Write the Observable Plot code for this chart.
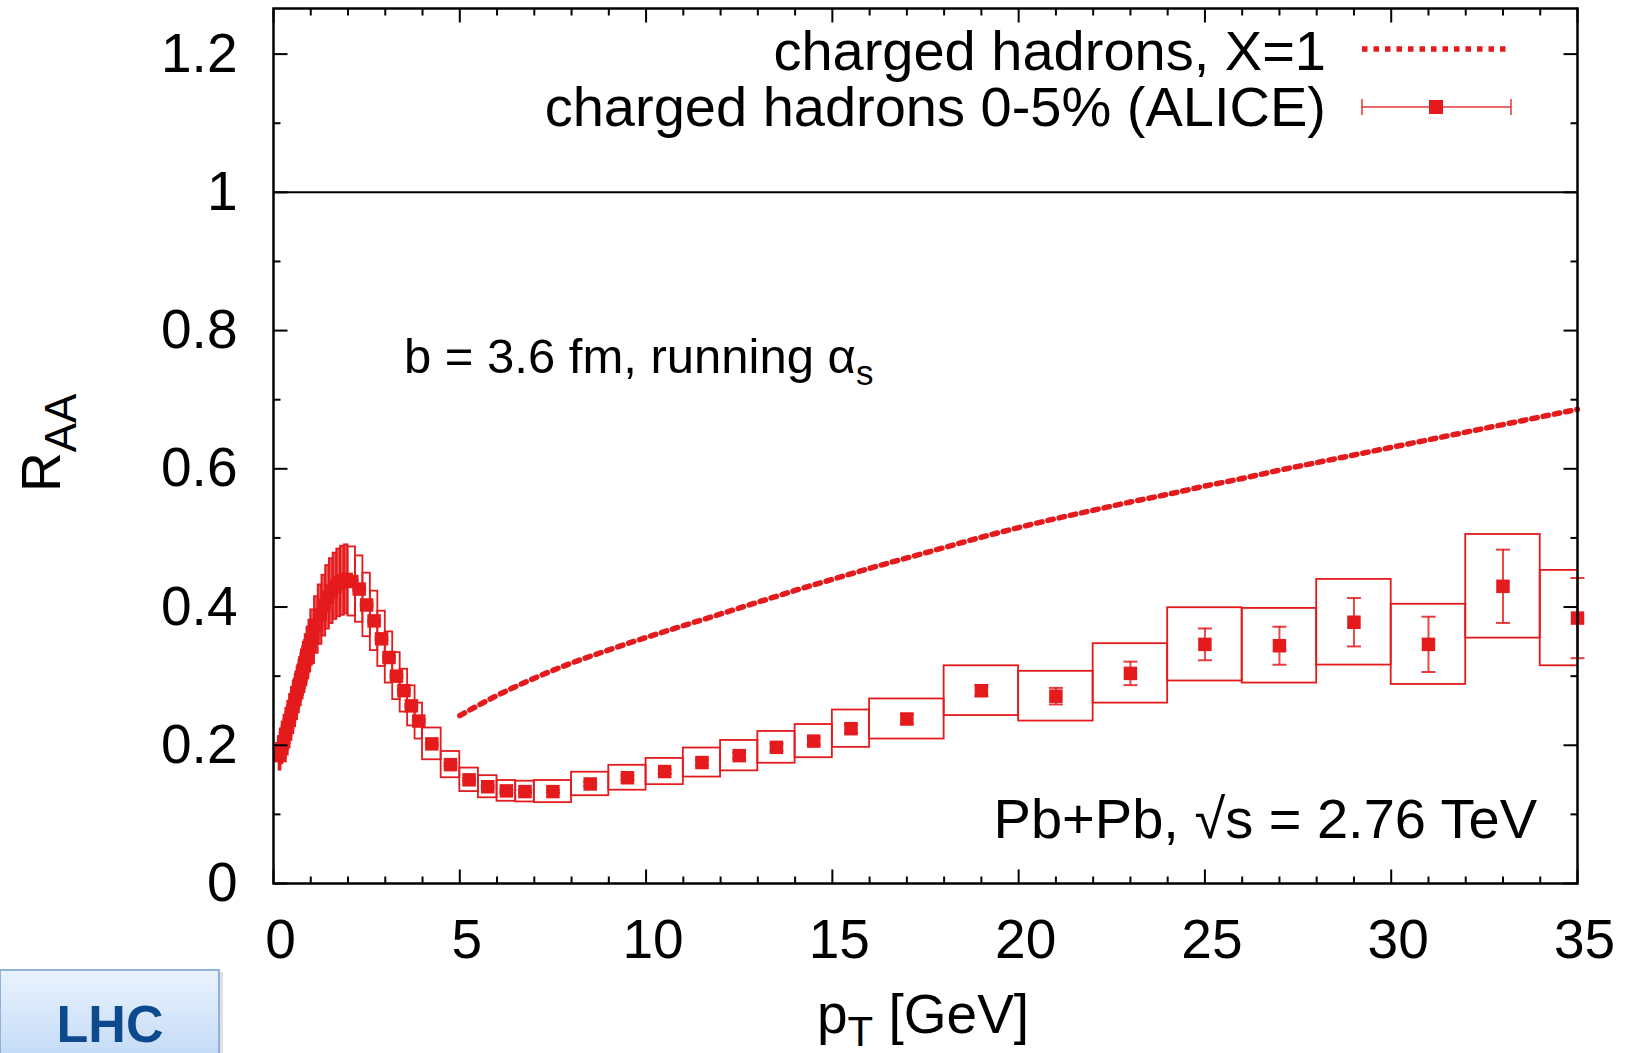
<!DOCTYPE html>
<html><head><meta charset="utf-8">
<script src="https://cdn.jsdelivr.net/npm/d3@7"></script>
<script src="https://cdn.jsdelivr.net/npm/@observablehq/plot@0.6"></script>
<style>
html,body{margin:0;padding:0;background:#fff;overflow:hidden;}
</style></head>
<body><div id="chart"></div>
<script>
// ALICE charged hadrons 0-5%: bin edges, centres, values, stat and sys errors
const ptLo=[0.15,0.2,0.25,0.3,0.35,0.4,0.45,0.5,0.55,0.6,0.65,0.7,0.75,0.8,0.85,0.9,0.95,
 1.0,1.1,1.2,1.3,1.4,1.5,1.6,1.7,1.8,1.9,
 2.0,2.2,2.4,2.6,2.8,3.0,3.2,3.4,3.6,3.8,
 4.0,4.5,5.0,5.5,6.0,6.5,
 7,8,9,10,11,12,13,14,15,
 16,18,20,22,24,26,28,30,32,34];
const ptHi=[0.2,0.25,0.3,0.35,0.4,0.45,0.5,0.55,0.6,0.65,0.7,0.75,0.8,0.85,0.9,0.95,1.0,
 1.1,1.2,1.3,1.4,1.5,1.6,1.7,1.8,1.9,2.0,
 2.2,2.4,2.6,2.8,3.0,3.2,3.4,3.6,3.8,4.0,
 4.5,5.0,5.5,6.0,6.5,7.0,
 8,9,10,11,12,13,14,15,16,
 18,20,22,24,26,28,30,32,34,36];
const pt=[0.175,0.225,0.275,0.325,0.375,0.425,0.475,0.525,0.575,0.625,0.675,0.725,0.775,0.825,0.875,0.925,0.975,
 1.05,1.15,1.25,1.35,1.45,1.55,1.65,1.75,1.85,1.95,
 2.1,2.3,2.5,2.7,2.9,3.1,3.3,3.5,3.7,3.9,
 4.25,4.75,5.25,5.75,6.25,6.75,
 7.5,8.5,9.5,10.5,11.5,12.5,13.5,14.5,15.5,
 17,19,21,23,25,27,29,31,33,35];
const raa=[0.185,0.195,0.205,0.216,0.226,0.236,0.246,0.256,0.266,0.276,0.285,0.295,0.305,0.315,0.325,0.335,0.344,
 0.357,0.374,0.389,0.402,0.414,0.423,0.430,0.435,0.438,0.440,
 0.437,0.426,0.403,0.380,0.354,0.327,0.300,0.279,0.257,0.235,
 0.202,0.172,0.150,0.140,0.134,0.133,
 0.133,0.144,0.153,0.162,0.175,0.185,0.197,0.206,0.224,
 0.238,0.279,0.271,0.304,0.346,0.344,0.378,0.346,0.430,0.384];
const stat=[0.002,0.002,0.002,0.002,0.002,0.002,0.002,0.002,0.002,0.002,0.002,0.002,0.002,0.002,0.002,0.002,0.002,
 0.002,0.002,0.002,0.002,0.002,0.002,0.002,0.002,0.002,0.002,
 0.002,0.002,0.002,0.002,0.002,0.002,0.002,0.002,0.002,0.002,
 0.002,0.002,0.002,0.002,0.002,0.002,
 0.002,0.003,0.003,0.003,0.004,0.004,0.005,0.005,0.006,
 0.007,0.008,0.012,0.017,0.023,0.0275,0.035,0.040,0.053,0.058];
const sys=[0.021,0.022,0.023,0.024,0.025,0.026,0.027,0.028,0.029,0.030,0.031,0.032,0.033,0.034,0.035,0.036,0.037,
 0.039,0.041,0.043,0.044,0.046,0.047,0.048,0.049,0.050,0.050,
 0.050,0.048,0.046,0.043,0.040,0.037,0.034,0.031,0.029,0.026,
 0.023,0.019,0.017,0.016,0.015,0.015,
 0.016,0.017,0.018,0.019,0.021,0.022,0.023,0.024,0.027,
 0.029,0.036,0.036,0.043,0.053,0.054,0.062,0.058,0.075,0.069];

// theory: charged hadrons, X=1
const thPt=[5,6,7,8,9,10,11,12,13,14,15,16,17,18,19,20,21,22,23,24,25,26,27,28,29,30,31,32,33,34,35];
const thRaa=[0.243,0.272,0.297,0.319,0.338,0.356,0.373,0.390,0.407,0.424,0.440,0.456,0.471,0.486,0.501,0.515,
 0.528,0.540,0.552,0.563,0.575,0.586,0.598,0.609,0.620,0.631,0.642,0.653,0.664,0.675,0.686];

// ticks
const xMajor=[0,5,10,15,20,25,30,35];
const xTickText=["0","5","10","15","20","25","30","35"];
const xMinor=[1,2,3,4,6,7,8,9,11,12,13,14,16,17,18,19,21,22,23,24,26,27,28,29,31,32,33,34];
const yMajor=[0,0.2,0.4,0.6,0.8,1.0,1.2];
const yTickText=["0","0.2","0.4","0.6","0.8","1","1.2"];
const yMinor=[0.1,0.3,0.5,0.7,0.9,1.1];

const data=pt.map((p,i)=>({pt:p,lo:ptLo[i],hi:ptHi[i],v:raa[i],st:stat[i],sy:sys[i]}));
const theory=thPt.map((p,i)=>({pt:p,v:thRaa[i]}));

const RED="#e41a1c";
const FONT='"Liberation Sans", Arial, Helvetica, sans-serif';
const seg=(x1,y1,x2,y2)=>({draw(c){c.moveTo(x1,y1);c.lineTo(x2,y2);}});
const tk={stroke:"black",strokeWidth:2,fill:"none"};
// very narrow systematic boxes merge visually into a band
const boxFillOpacity=d=>(d.hi-d.lo)<0.07?1:((d.hi-d.lo)<0.15?0.75:0);

const plot=Plot.plot({
  width:1626,height:1053,
  marginLeft:273,marginRight:49,marginTop:8,marginBottom:170,
  x:{domain:[0,35],axis:null},
  y:{domain:[0,1.266],axis:null},
  style:{fontFamily:FONT,background:"white",color:"black",overflow:"visible"},
  marks:[
    Plot.ruleY([1],{stroke:"black",strokeWidth:2}),
    Plot.rect(data,{x1:"lo",x2:"hi",y1:d=>d.v-d.sy,y2:d=>d.v+d.sy,fill:RED,fillOpacity:boxFillOpacity,stroke:RED,strokeWidth:1.8,clip:true}),
    Plot.ruleX(data,{x:"pt",y1:d=>d.v-d.st,y2:d=>d.v+d.st,stroke:RED,strokeWidth:2,strokeOpacity:0.8}),
    Plot.dot(data,{x:"pt",y:d=>d.v-d.st,symbol:seg(-7,0,7,0),stroke:RED,strokeWidth:2,strokeOpacity:0.85,fill:"none"}),
    Plot.dot(data,{x:"pt",y:d=>d.v+d.st,symbol:seg(-7,0,7,0),stroke:RED,strokeWidth:2,strokeOpacity:0.85,fill:"none"}),
    Plot.dot(data,{x:"pt",y:"v",symbol:"square",r:7.6,fill:RED,stroke:"none"}),
    Plot.line(theory,{x:"pt",y:"v",stroke:RED,strokeWidth:5.5,strokeDasharray:"5.5,6",curve:"monotone-x"}),
    Plot.dot(xMajor,{x:d=>d,frameAnchor:"bottom",symbol:seg(0,0,0,-14),...tk}),
    Plot.dot(xMinor,{x:d=>d,frameAnchor:"bottom",symbol:seg(0,0,0,-7),...tk}),
    Plot.dot(xMajor,{x:d=>d,frameAnchor:"top",symbol:seg(0,0,0,14),...tk}),
    Plot.dot(xMinor,{x:d=>d,frameAnchor:"top",symbol:seg(0,0,0,7),...tk}),
    Plot.dot(yMajor,{y:d=>d,frameAnchor:"left",symbol:seg(0,0,14,0),...tk}),
    Plot.dot(yMinor,{y:d=>d,frameAnchor:"left",symbol:seg(0,0,7,0),...tk}),
    Plot.dot(yMajor,{y:d=>d,frameAnchor:"right",symbol:seg(0,0,-14,0),...tk}),
    Plot.dot(yMinor,{y:d=>d,frameAnchor:"right",symbol:seg(0,0,-7,0),...tk}),
    Plot.frame({stroke:"black",strokeWidth:2.5}),
    Plot.text(xMajor,{x:d=>d,text:(d,i)=>xTickText[i],frameAnchor:"bottom",dx:7,dy:74,lineAnchor:"bottom",fontSize:55,fill:"black"}),
    Plot.text(yMajor,{y:d=>d,text:(d,i)=>yTickText[i],frameAnchor:"left",dx:-36,textAnchor:"end",lineAnchor:"middle",fontSize:55,fill:"black"})
  ]
});
document.getElementById("chart").appendChild(plot);

const svg=d3.select(plot);
const defs=svg.append("defs");
const grad=defs.append("linearGradient").attr("id","lhcg").attr("x1",0).attr("y1",0).attr("x2",0).attr("y2",1);
grad.append("stop").attr("offset","0%").attr("stop-color","#eaf3fe");
grad.append("stop").attr("offset","100%").attr("stop-color","#c3daf6");

const g=svg.append("g").attr("font-family",FONT).attr("fill","black").attr("text-anchor","start");
// y label
const yl=g.append("text").attr("transform","translate(60,492) rotate(-90)").attr("font-size",55).attr("text-anchor","start");
yl.append("tspan").text("R");
yl.append("tspan").attr("font-size",44).attr("dy",16).text("AA");
// x label
const xl=g.append("text").attr("x",817).attr("y",1033).attr("font-size",55).attr("text-anchor","start");
xl.append("tspan").text("p");
xl.append("tspan").attr("font-size",42).attr("dy",13).text("T");
xl.append("tspan").attr("dy",-13).text(" [GeV]");
// annotations
const an=g.append("text").attr("x",404).attr("y",373).attr("font-size",49).attr("text-anchor","start");
an.append("tspan").text("b = 3.6 fm, running \u03b1");
an.append("tspan").attr("font-size",35).attr("dy",12).text("s");
g.append("text").attr("x",1537).attr("y",838).attr("font-size",56).attr("text-anchor","end").text("Pb+Pb, \u221As = 2.76 TeV");
// legend
g.append("text").attr("x",1326).attr("y",70).attr("font-size",56).attr("text-anchor","end").text("charged hadrons, X=1");
g.append("text").attr("x",1326).attr("y",126).attr("font-size",56).attr("text-anchor","end").text("charged hadrons 0-5% (ALICE)");
g.append("line").attr("x1",1362).attr("x2",1506).attr("y1",49).attr("y2",49).attr("stroke",RED).attr("stroke-width",5.5).attr("stroke-dasharray","5.5,6");
g.append("line").attr("x1",1362).attr("x2",1511).attr("y1",107).attr("y2",107).attr("stroke",RED).attr("stroke-width",2).attr("stroke-opacity",0.65);
g.append("line").attr("x1",1362).attr("x2",1362).attr("y1",99).attr("y2",115).attr("stroke",RED).attr("stroke-width",2).attr("stroke-opacity",0.65);
g.append("line").attr("x1",1511).attr("x2",1511).attr("y1",99).attr("y2",115).attr("stroke",RED).attr("stroke-width",2).attr("stroke-opacity",0.65);
g.append("rect").attr("x",1429).attr("y",100).attr("width",14).attr("height",14).attr("fill",RED);
// LHC badge
g.append("rect").attr("x",3).attr("y",972).attr("width",220).attr("height",90).attr("fill","#000").attr("opacity",0.12);
g.append("rect").attr("x",0).attr("y",970).attr("width",219).attr("height",90).attr("fill","url(#lhcg)").attr("stroke","#8fb1da").attr("stroke-width",2);
g.append("text").attr("x",110).attr("y",1042).attr("font-size",52).attr("font-weight","bold").attr("text-anchor","middle").attr("fill","#0c4a8d").text("LHC");
</script>
</body></html>
